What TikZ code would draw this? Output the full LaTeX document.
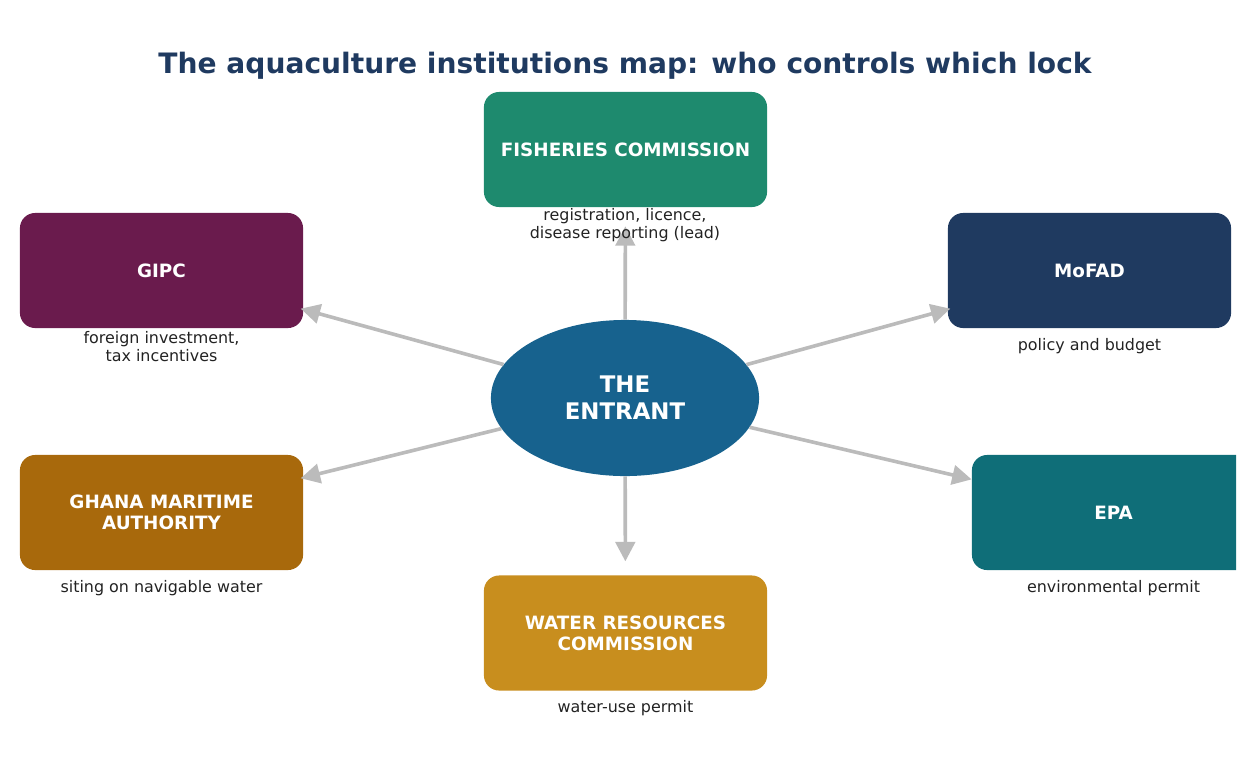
\documentclass[tikz,border=0pt]{standalone}
\usepackage{fontspec}
\setmainfont{DejaVu Sans}
\usetikzlibrary{arrows.meta,positioning,shapes.geometric}
\definecolor{titleblue}{HTML}{1F3A60}
\definecolor{fishgreen}{HTML}{1E8A6E}
\definecolor{gipcpurple}{HTML}{6A1B4D}
\definecolor{mofadnavy}{HTML}{1F3A60}
\definecolor{gmabrown}{HTML}{A8690C}
\definecolor{wrcgold}{HTML}{C88E1E}
\definecolor{epateal}{HTML}{0F6E78}
\definecolor{entrantblue}{HTML}{17628E}
\definecolor{linkgray}{HTML}{BBBBBB}
\definecolor{notegray}{HTML}{222222}

\begin{document}
\begin{tikzpicture}[x=0.01in,y=-0.01in,>=Latex,
  inst/.style={rounded corners=11pt,minimum width=2.83in,minimum height=1.15in,inner sep=0pt,align=center,text=white,font=\bfseries\fontsize{13.25}{15.2}\selectfont},
  note/.style={align=center,text=notegray,font=\fontsize{11.5}{13}\selectfont},
  link/.style={draw=linkgray,line width=2.6pt,-{Triangle[length=14pt,width=14pt]}}]
\useasboundingbox (0,0) rectangle (1250,769);
\begin{scope}
\clip (0,0) rectangle (1236,769);
\node[text=titleblue,font=\bfseries\fontsize{20.3}{24}\selectfont] (title) at (625,66) {The aquaculture institutions map: who controls which lock};
% institutions
\node[inst,fill=fishgreen] (fc) at (625.5,149.5) {FISHERIES COMMISSION};
\node[inst,fill=gipcpurple] (gipc) at (161.5,270.5) {GIPC};
\node[inst,fill=mofadnavy] (mofad) at (1089.5,270.5) {MoFAD};
\node[inst,fill=gmabrown] (gma) at (161.5,512.5) {GHANA MARITIME\\AUTHORITY};
\node[inst,fill=wrcgold] (wrc) at (625.5,633) {WATER RESOURCES\\COMMISSION};
\node[inst,fill=epateal] (epa) at (1113.5,512.5) {EPA};
% the entrant
\node[ellipse,fill=entrantblue,minimum width=2.68in,minimum height=1.56in,inner sep=0pt,align=center,text=white,font=\bfseries\fontsize{16.5}{19.5}\selectfont] (ent) at (625,398) {THE\\ENTRANT};
% arrows
\draw[link,shorten >=13.7pt] (ent) -- (fc);
\draw[link,shorten >=10pt] (ent) -- (wrc);
\draw[link,shorten >=-2pt] (ent) -- (gipc);
\draw[link,shorten >=-2pt] (ent) -- (mofad);
\draw[link,shorten >=-2pt] (ent) -- (gma);
\draw[link] (ent) -- (epa);
% what each one controls
\node[note] (fcnote) at (625,225.5) {registration, licence,\\disease reporting (lead)};
\node[note] (gipcnote) at (161.5,346.5) {foreign investment,\\tax incentives};
\node[note] (mofadnote) at (1089.5,346.5) {policy and budget};
\node[note] (gmanote) at (161.5,588.5) {siting on navigable water};
\node[note] (wrcnote) at (625.5,708.5) {water-use permit};
\node[note] (epanote) at (1113.5,588.5) {environmental permit};
\end{scope}
\end{tikzpicture}
\end{document}
